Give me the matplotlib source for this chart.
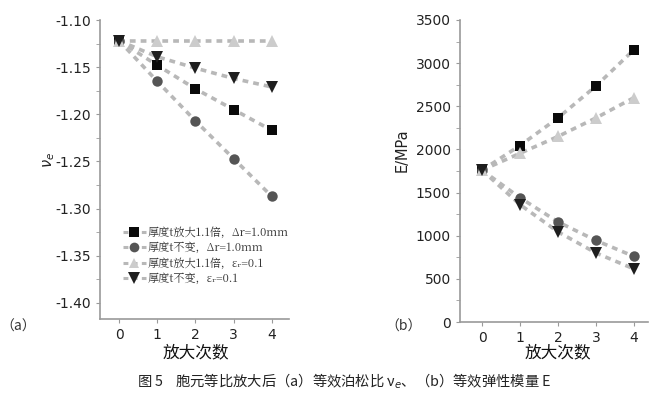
import matplotlib.pyplot as plt
from matplotlib.lines import Line2D

plt.rcParams["font.family"] = ["DejaVu Sans", "Noto Sans CJK SC"]

steps = [0, 1, 2, 3, 4]

# (a) equivalent Poisson ratio
nu_square = [-1.122, -1.148, -1.173, -1.195, -1.217]
nu_circle = [-1.122, -1.165, -1.207, -1.247, -1.287]
nu_triangle = [-1.122, -1.122, -1.122, -1.122, -1.122]
nu_down = [-1.122, -1.139, -1.151, -1.162, -1.171]

# (b) equivalent elastic modulus (MPa)
e_square = [1760, 2045, 2365, 2735, 3155]
e_circle = [1760, 1440, 1160, 945, 760]
e_triangle = [1760, 1955, 2150, 2365, 2600]
e_down = [1760, 1360, 1045, 800, 615]

legend_labels = [
    "厚度t放大1.1倍，Δr=1.0mm",
    "厚度t不变，Δr=1.0mm",
    "厚度t放大1.1倍，εᵣ=0.1",
    "厚度t不变，εᵣ=0.1",
]

LINE = "#b8b8b8"
styles = [
    dict(marker="s", color="#0a0a0a", ms=7),
    dict(marker="o", color="#555555", ms=7.5),
    dict(marker="^", color="#cccccc", ms=8),
    dict(marker="v", color="#1e1e1e", ms=8.5),
]
SPINE = "#9a9a9a"
DASH = (0, (1.6, 1.4))


def draw(ax, series):
    for ys, st in zip(series, styles):
        ax.plot(steps, ys, linestyle=DASH, color=LINE, linewidth=2.6, zorder=1)
        ax.plot(steps, ys, linestyle="none", marker=st["marker"], color=st["color"],
                markersize=st["ms"], markeredgewidth=0, zorder=2)
    for side in ["top", "right"]:
        ax.spines[side].set_visible(False)
    for side in ["left", "bottom"]:
        ax.spines[side].set_color(SPINE)
        ax.spines[side].set_linewidth(1.2)
    ax.tick_params(axis="both", which="both", color=SPINE, labelsize=10, labelcolor="#222222")
    ax.tick_params(axis="x", length=3, direction="out")
    ax.tick_params(axis="y", which="both", length=3, direction="out")
    ax.set_xticks(steps)


fig = plt.figure(figsize=(6.62, 3.94), dpi=100, facecolor="white")
W, H = 662, 394

ax1 = fig.add_axes([100 / W, 1 - 319 / H, 189 / W, 299 / H])
draw(ax1, [nu_square, nu_circle, nu_triangle, nu_down])
ax1.set_xlim(-0.5, 4.45)
ax1.set_ylim(-1.417, -1.10)
ax1.set_yticks([-1.10, -1.15, -1.20, -1.25, -1.30, -1.35, -1.40])
ax1.set_yticks([-1.125, -1.175, -1.225, -1.275, -1.325, -1.375], minor=True)
ax1.set_yticklabels(["-1.10", "-1.15", "-1.20", "-1.25", "-1.30", "-1.35", "-1.40"])

handles = []
for st in styles:
    handles.append(Line2D([0], [0], linestyle=DASH, color=LINE, linewidth=2.2,
                          marker=st["marker"], markerfacecolor=st["color"],
                          markeredgewidth=0, markersize=st["ms"] - 0.5))
leg = ax1.legend(handles, legend_labels, loc="upper left", bbox_to_anchor=(0.1, 0.325),
                 frameon=False, handlelength=2.0, handletextpad=0.15, labelspacing=0.3,
                 borderaxespad=0,
                 prop={"family": ["Noto Serif CJK SC", "Noto Sans CJK SC", "DejaVu Serif"], "size": 8})
for t in leg.get_texts():
    t.set_color("#333333")

ax2 = fig.add_axes([460 / W, 1 - 322 / H, 188 / W, 302 / H])
draw(ax2, [e_square, e_circle, e_triangle, e_down])
ax2.set_xlim(-0.58, 4.37)
ax2.set_ylim(0, 3500)
ax2.set_yticks([0, 500, 1000, 1500, 2000, 2500, 3000, 3500])
ax2.set_yticks([250, 750, 1250, 1750, 2250, 2750, 3250], minor=True)

cjk = ["Noto Sans CJK SC", "DejaVu Sans"]
fig.text(49 / W, 1 - 160 / H, "$\\nu_e$", rotation=90, ha="center", va="center",
         fontsize=10.5, color="#222222")
fig.text(402 / W, 1 - 150 / H, "E/MPa", rotation=90, ha="center", va="center",
         fontsize=10.5, color="#222222")
fig.text(196 / W, 1 - 353 / H, "放大次数", ha="center", va="center", fontsize=12,
         family=cjk, color="#111111")
fig.text(558 / W, 1 - 353 / H, "放大次数", ha="center", va="center", fontsize=12,
         family=cjk, color="#111111")
fig.text(0 / W, 1 - 327 / H, "（a）", ha="left", va="center", fontsize=10,
         family=cjk, color="#333333")
fig.text(385 / W, 1 - 327 / H, "（b）", ha="left", va="center", fontsize=10,
         family=cjk, color="#333333")
fig.text(344 / W, 1 - 381 / H, "图 5    胞元等比放大后（a）等效泊松比 ν$_e$、（b）等效弹性模量 E",
         ha="center", va="center", fontsize=10.3, family=cjk, color="#222222")

fig.savefig("out.png", dpi=100, facecolor="white")
